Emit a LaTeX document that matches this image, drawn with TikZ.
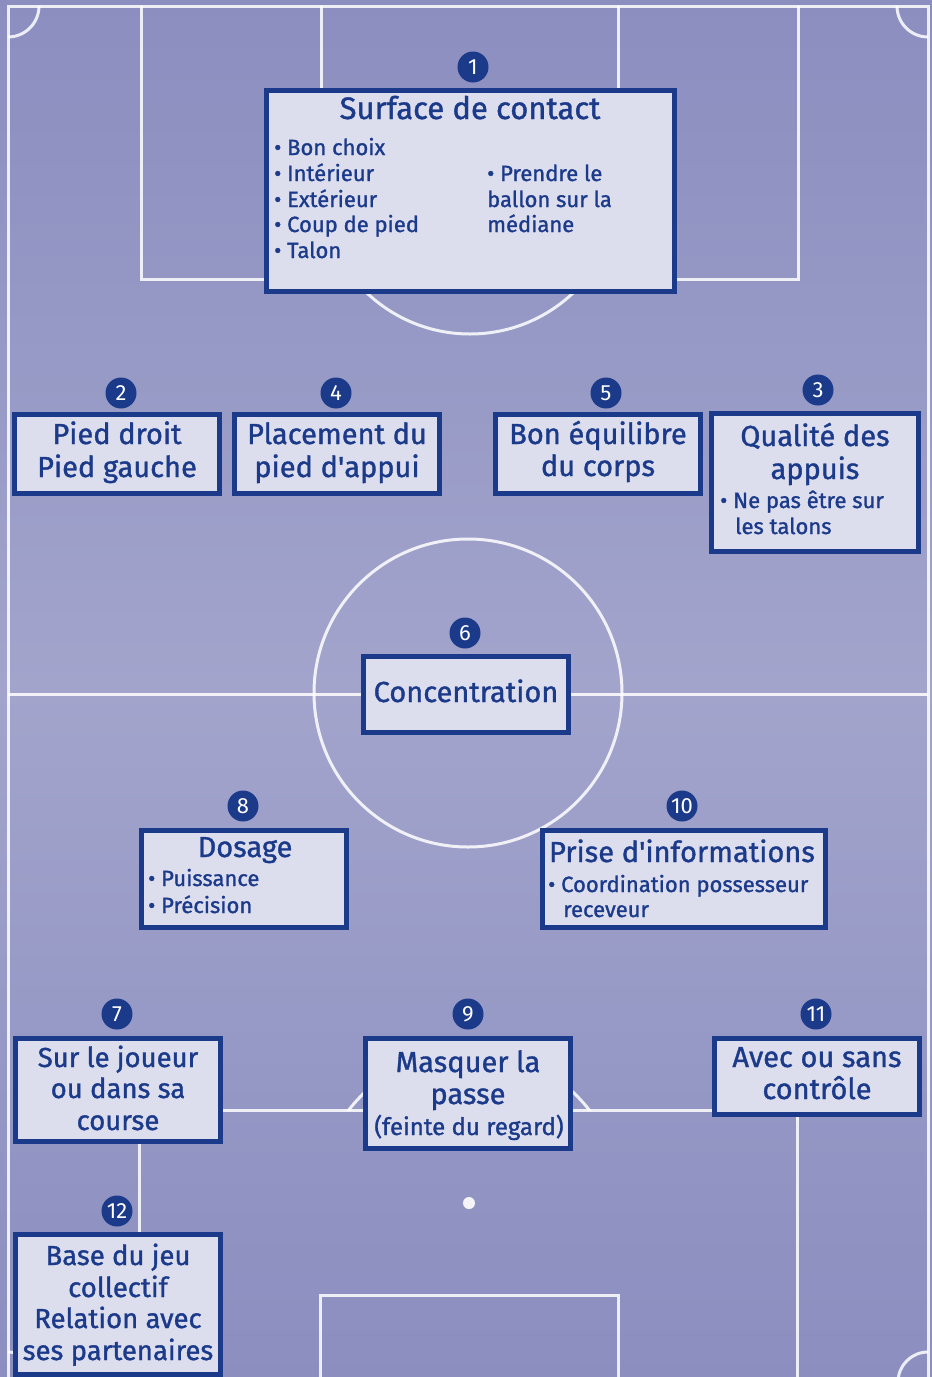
\documentclass[tikz,border=0pt]{standalone}
\usepackage{fontspec}
\setmainfont{Fira Sans}[UprightFeatures={FakeBold=1.2}]
\newfontfamily\numfont{Fira Sans}
\newfontfamily\aposfont{Fira Sans}[FakeBold=1.2]
\definecolor{navy}{HTML}{1B3A8A}
\definecolor{boxfill}{HTML}{DCDDED}
\definecolor{bgtop}{HTML}{8B8EBF}
\definecolor{bgmid}{HTML}{A2A4CC}
\newcommand\apos{{\aposfont'}}
\begin{document}
\begin{tikzpicture}[x=1pt,y=-1pt,
  pbox/.style={rectangle, draw=navy, line width=5pt, fill=boxfill, inner sep=0pt},
  badge/.style={circle, fill=navy, text=white, minimum size=31pt, inner sep=0pt, font=\numfont\fontsize{22}{22}\selectfont},
  tbig/.style={text=navy, inner sep=0pt, font=\fontsize{29}{33}\selectfont},
  tnar/.style={text=navy, inner sep=0pt, font=\fontsize{27.5}{33}\selectfont},
  ttitle/.style={text=navy, inner sep=0pt, font=\fontsize{31}{33}\selectfont},
  tmid/.style={text=navy, inner sep=0pt, font=\fontsize{24}{28}\selectfont},
  tsmall/.style={text=navy, inner sep=0pt, font=\fontsize{22}{25}\selectfont},
  field/.style={draw=white, draw opacity=0.85, line width=3pt}]
\useasboundingbox (0,0) rectangle (932,1377);
% background
\shade[top color=bgtop, bottom color=bgtop, middle color=bgmid] (0,0) rectangle (932,1377);
% field lines
\draw[field] (8,1390) -- (8,6) -- (928,6) -- (928,1390);
\begin{scope}
  \clip (8,6) rectangle (928,1390);
  \draw[field] (8,6) circle[radius=31];
  \draw[field] (928,6) circle[radius=31];
  \draw[field] (8,1382) circle[radius=30];
  \draw[field] (928,1382) circle[radius=30];
\end{scope}
\draw[field] (141,6) -- (141,279) -- (798,279) -- (798,6);
\draw[field] (321,6) -- (321,100) -- (618,100) -- (618,6);
\begin{scope}
  \clip (0,279) rectangle (932,420);
  \draw[field] (470,184) circle[radius=150];
\end{scope}
\draw[field] (8,694) -- (928,694);
\draw[field] (468,693) circle[radius=154];
\draw[field] (139,1390) -- (139,1110) -- (797,1110) -- (797,1390);
\begin{scope}
  \clip (0,960) rectangle (932,1110);
  \draw[field] (469,1203) circle[radius=152];
\end{scope}
\fill[white, opacity=0.9] (469,1203) circle[radius=6];
\draw[field] (320,1390) -- (320,1295) -- (618,1295) -- (618,1390);

% boxes
\node[pbox, minimum width=408pt, minimum height=201pt] (b1) at (470.5,191) {};
\node[pbox, minimum width=205pt, minimum height=79pt] (b2) at (117,454) {};
\node[pbox, minimum width=205pt, minimum height=79pt] (b4) at (337,454) {};
\node[pbox, minimum width=205pt, minimum height=79pt] (b5) at (598,454) {};
\node[pbox, minimum width=207pt, minimum height=138pt] (b3) at (815,482.5) {};
\node[pbox, minimum width=205pt, minimum height=76pt] (b6) at (466,694.5) {};
\node[pbox, minimum width=205pt, minimum height=97pt] (b8) at (244,879) {};
\node[pbox, minimum width=283pt, minimum height=97pt] (b10) at (684,879) {};
\node[pbox, minimum width=205pt, minimum height=103pt] (b7) at (118,1090) {};
\node[pbox, minimum width=205pt, minimum height=110pt] (b9) at (468,1093.5) {};
\node[pbox, minimum width=205pt, minimum height=76pt] (b11) at (817,1076.5) {};
\node[pbox, minimum width=205pt, minimum height=140pt] (b12) at (118,1304.5) {};

% badges
\node[badge] (n1) at (473,67) {1};
\node[badge] (n2) at (121,393) {2};
\node[badge] (n4) at (336,393) {4};
\node[badge] (n5) at (606,393) {5};
\node[badge] (n3) at (818,390) {3};
\node[badge] (n6) at (465,633) {6};
\node[badge] (n8) at (243,806) {8};
\node[badge] (n10) at (682,806) {10};
\node[badge] (n7) at (117,1014) {7};
\node[badge] (n9) at (468,1014) {9};
\node[badge] (n11) at (816,1014) {11};
\node[badge] (n12) at (117,1211) {12};

% box 1 text
\node[ttitle, anchor=base] (t1) at (470,119) {Surface de contact};
\node[tsmall, anchor=base west] (t1a) at (274,155) {• Bon choix};
\node[tsmall, anchor=base west] (t1b) at (274,181) {• Intérieur};
\node[tsmall, anchor=base west] (t1c) at (274,207) {• Extérieur};
\node[tsmall, anchor=base west] (t1d) at (274,232) {• Coup de pied};
\node[tsmall, anchor=base west] (t1e) at (274,258) {• Talon};
\node[tsmall, anchor=base west] (t1f) at (487,181) {• Prendre le};
\node[tsmall, anchor=base west] (t1g) at (487,207) {ballon sur la};
\node[tsmall, anchor=base west] (t1h) at (487,232) {médiane};

% box 2
\node[tbig, anchor=base] (t2a) at (117,444) {Pied droit};
\node[tbig, anchor=base] (t2b) at (117,477) {Pied gauche};
% box 4
\node[tbig, anchor=base] (t4a) at (337,444) {Placement du};
\node[tbig, anchor=base] (t4b) at (337,477) {pied d\apos appui};
% box 5
\node[tbig, anchor=base] (t5a) at (598,444) {Bon équilibre};
\node[tbig, anchor=base] (t5b) at (598,476) {du corps};
% box 3
\node[tbig, anchor=base] (t3a) at (815,446) {Qualité des};
\node[tbig, anchor=base] (t3b) at (815,479) {appuis};
\node[tsmall, anchor=base west] (t3c) at (720,508) {• Ne pas être sur};
\node[tsmall, anchor=base west] (t3d) at (735,534) {les talons};
% box 6
\node[tbig, anchor=base] (t6) at (466,702) {Concentration};
% box 8
\node[tbig, anchor=base] (t8a) at (245,857) {Dosage};
\node[tsmall, anchor=base west] (t8b) at (148,886) {• Puissance};
\node[tsmall, anchor=base west] (t8c) at (148,913) {• Précision};
% box 10
\node[tbig, anchor=base] (t10a) at (682,862) {Prise d\apos informations};
\node[tsmall, anchor=base west] (t10b) at (548,892) {• Coordination possesseur};
\node[tsmall, anchor=base west] (t10c) at (563,917) {receveur};
% box 7
\node[tnar, anchor=base] (t7a) at (118,1067) {Sur le joueur};
\node[tnar, anchor=base] (t7b) at (118,1098) {ou dans sa};
\node[tnar, anchor=base] (t7c) at (118,1130) {course};
% box 9
\node[tbig, anchor=base] (t9a) at (468,1072) {Masquer la};
\node[tbig, anchor=base] (t9b) at (468,1104) {passe};
\node[tmid, anchor=base] (t9c) at (469,1135) {(feinte du regard)};
% box 11
\node[tbig, anchor=base] (t11a) at (817,1067) {Avec ou sans};
\node[tbig, anchor=base] (t11b) at (817,1099) {contrôle};
% box 12
\node[tnar, anchor=base] (t12a) at (118,1265) {Base du jeu};
\node[tnar, anchor=base] (t12b) at (118,1297) {collectif};
\node[tnar, anchor=base] (t12c) at (118,1328) {Relation avec};
\node[tnar, anchor=base] (t12d) at (118,1360) {ses partenaires};
\end{tikzpicture}
\end{document}
